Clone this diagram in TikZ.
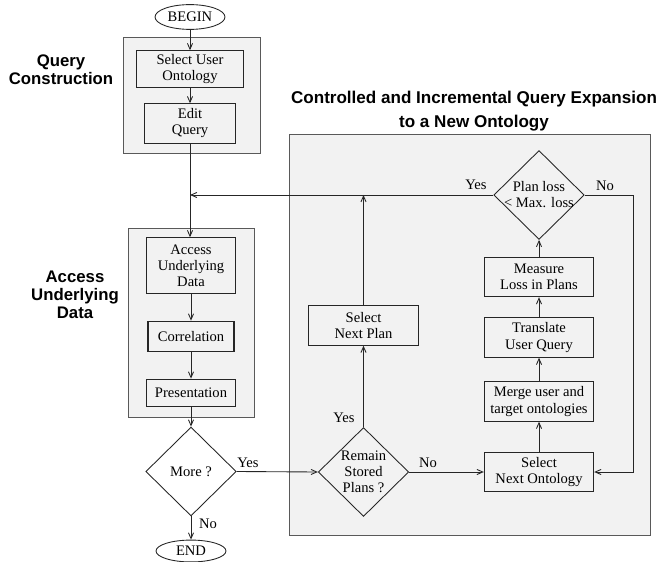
\documentclass[tikz,border=0pt]{standalone}
\usepackage{fontspec}
\setmainfont{Liberation Serif}
\newfontfamily\headfont{Liberation Sans}
\usetikzlibrary{shapes.geometric,arrows.meta}

\tikzset{
  stepbox/.style={draw=black!85, line width=0.7pt, inner sep=0pt, align=center,
    minimum width=75pt, minimum height=27pt, font=\fontsize{10}{11}\selectfont},
  choice/.style={diamond, draw=black!85, line width=0.6pt, inner sep=-5pt, align=center,
    minimum width=62pt, minimum height=61pt, font=\fontsize{10}{11}\selectfont},
  terminal/.style={ellipse, draw=black!85, fill=white, line width=0.6pt, inner sep=0pt,
    minimum width=48pt, minimum height=17pt, font=\fontsize{10}{11}\selectfont},
  groupframe/.style={draw=black!65, fill=black!5, line width=0.6pt},
  heading/.style={align=center, font=\headfont\bfseries\fontsize{11.5}{12.5}\selectfont},
  flow/.style={->, line width=0.6pt, draw=black!85},
  tag/.style={font=\fontsize{10}{11}\selectfont},
  >={Straight Barb[length=4pt,width=3.5pt]}
}

\begin{document}
\begin{tikzpicture}[x=0.686pt, y=-0.686pt]
  \useasboundingbox (0,0) rectangle (658,562);

  % grey group frames
  \draw[groupframe] (123,37) rectangle (260,153);
  \draw[groupframe] (128,228) rectangle (254,417);
  \draw[groupframe] (289,134) rectangle (650,535);

  \node[heading] (hquery) at (61,70) {Query\\Construction};
  \node[heading] (haccess) at (75,295) {Access\\Underlying\\Data};
  \node[heading, font=\headfont\bfseries\fontsize{11.7}{16.5}\selectfont] (hexpand) at (474,111)
    {Controlled and Incremental Query Expansion\\to a New Ontology};

  % left column
  \node[terminal] (begin) at (190,17) {BEGIN};
  \node[stepbox, minimum width=73pt, minimum height=25pt] (useronto) at (190,69) {Select User\\Ontology};
  \node[stepbox, minimum width=62pt, minimum height=27pt] (edit) at (190,123.5) {Edit\\Query};
  \node[stepbox, minimum width=61pt, minimum height=38pt] (access) at (191,265.5) {Access\\Underlying\\Data};
  \node[stepbox, minimum width=59pt, minimum height=21pt] (corr) at (191,336.5) {Correlation};
  \node[stepbox, minimum width=61pt, minimum height=19pt] (pres) at (191,393) {Presentation};
  \node[choice, fill=white] (more) at (191,471.5) {More ?};
  \node[terminal, minimum height=15pt] (end) at (191,551) {END};

  % expansion loop
  \node[choice] (loss) at (539,195) {Plan loss\\< Max. loss};
  \node[stepbox] (measure) at (539,277) {Measure\\Loss in Plans};
  \node[stepbox] (translate) at (539,337.5) {Translate\\User Query};
  \node[stepbox] (merge) at (539,401.5) {Merge user and\\target ontologies};
  \node[stepbox] (nextonto) at (539,472) {Select\\Next Ontology};
  \node[stepbox] (nextplan) at (363.5,325.5) {Select\\Next Plan};
  \node[choice] (remain) at (363.5,472) {Remain\\Stored\\Plans ?};

  \coordinate (join) at (190,195);
  \coordinate (noturn) at (633,195);

  \draw[flow] (begin) -- (useronto);
  \draw[flow] (useronto) -- (edit);
  \draw[flow] (edit.south) -- (edit.south |- access.north);
  \draw[flow] (access) -- (corr);
  \draw[flow] (corr) -- (pres);
  \draw[flow] (pres) -- (more);
  \draw[flow] (more) -- (end);
  \draw[flow] (more.east) -- (remain.west);
  \draw[flow] (remain.east) -- (nextonto.west);
  \draw[flow] (remain) -- (nextplan);
  \draw[flow] (nextplan.north) -- (nextplan.north |- join);
  \draw[flow] (nextonto) -- (merge);
  \draw[flow] (merge) -- (translate);
  \draw[flow] (translate) -- (measure);
  \draw[flow] (measure) -- (loss);
  \draw[flow] (loss.west) -- (join);
  \draw[flow] (loss.east) -- (noturn) |- (nextonto.east);

  \node[tag] (moreyes) at (248,463) {Yes};
  \node[tag] (moreno) at (208,524) {No};
  \node[tag] (remainyes) at (344,418) {Yes};
  \node[tag] (remainno) at (428,463) {No};
  \node[tag] (lossyes) at (476,185) {Yes};
  \node[tag] (lossno) at (605,186) {No};
\end{tikzpicture}
\end{document}
